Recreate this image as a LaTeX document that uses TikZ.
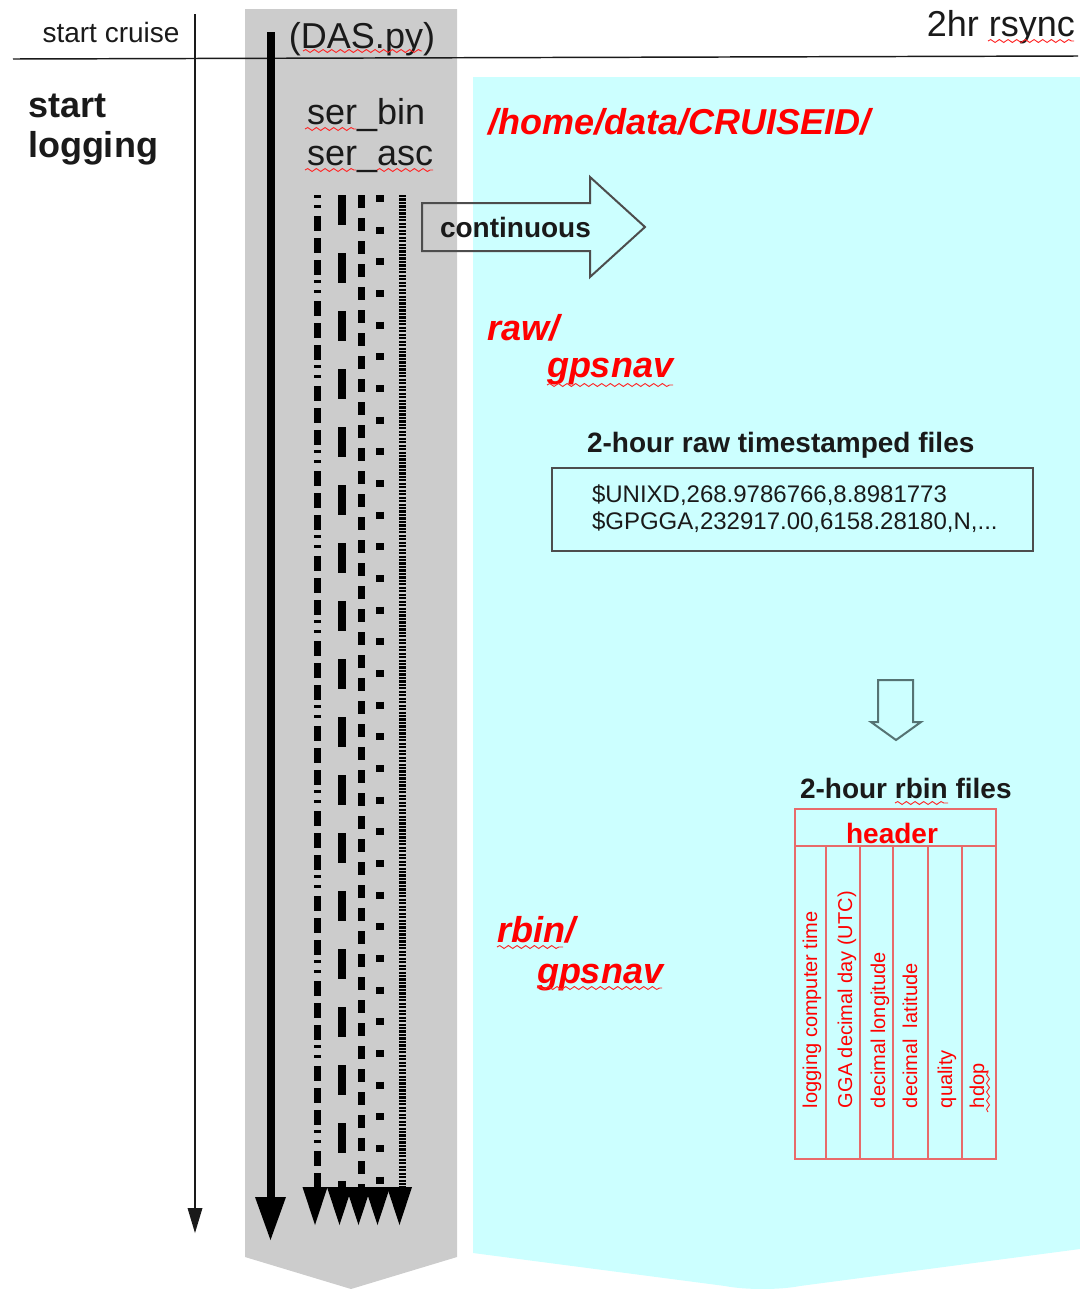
\documentclass[tikz,border=0pt]{standalone}
\usepackage{fontspec}
\setmainfont{Liberation Sans}
\usetikzlibrary{decorations.pathmorphing}
\definecolor{bandgray}{HTML}{CCCCCC}
\definecolor{cyanbg}{HTML}{CCFFFF}
\definecolor{tabred}{HTML}{E86A6A}
\definecolor{outl}{HTML}{4D4D4D}
\definecolor{outltwo}{HTML}{557373}
\definecolor{inkblack}{HTML}{1A1A1A}
\newcommand\fsA{\fontsize{27}{32}\selectfont}
\newcommand\fsB{\fontsize{21}{25}\selectfont}
\newcommand\fsC{\fontsize{18}{21}\selectfont}
\newcommand\fsD{\fontsize{15}{18}\selectfont}
\begin{document}
\begin{tikzpicture}[x=0.75pt,y=-0.75pt,
  txt/.style={inner sep=0pt, outer sep=0pt, text=inkblack},
  redtxt/.style={inner sep=0pt, outer sep=0pt, text=red},
  coltxt/.style={inner sep=0pt, outer sep=0pt, text=red, rotate=90, anchor=base west},
  wavy/.style={red!85!white, line width=0.7pt, decorate, decoration={snake, segment length=6.5pt, amplitude=1.1pt}},
  dashline/.style={line width=5.25pt},
  tabline/.style={tabred, line width=1.5pt}]
\useasboundingbox (0,0) rectangle (1080,1289);
% backgrounds
\fill[cyanbg] (473,77) -- (1080,77) -- (1080,1249) -- (800,1286) .. controls (780,1290) and (745,1290) .. (725,1286) -- (473,1253) -- cycle;
\fill[bandgray] (245,9) -- (457,9) -- (457,1257) -- (351,1289) -- (245,1257) -- cycle;
% horizontal rule
\coordinate (hl) at (13,59);
\coordinate (hr) at (1078,56);
\draw[inkblack, line width=1.1pt] (hl) -- (hr);
% thin timeline arrow
\coordinate (tA) at (195,14);
\coordinate (tB) at (195,1212);
\draw[inkblack, line width=1.1pt] (tA) -- (tB);
\fill[inkblack] (187.5,1208) -- (202.5,1208) -- (195,1233) -- cycle;
% thick arrow
\coordinate (kA) at (271,32);
\coordinate (kB) at (271,1199);
\draw[black, line width=6pt] (kA) -- (kB);
\fill[black] (255,1197) -- (286,1197) -- (270.5,1240) -- cycle;
% dashed streams
\coordinate (d1a) at (317,195); \coordinate (d1b) at (317,1189);
\coordinate (d2a) at (342,195); \coordinate (d2b) at (342,1189);
\coordinate (d3a) at (361,195); \coordinate (d3b) at (361,1189);
\coordinate (d4a) at (380,195); \coordinate (d4b) at (380,1189);
\coordinate (d5a) at (402,195); \coordinate (d5b) at (402,1189);
\draw[dashline, dash pattern=on 2.25pt off 5.25pt on 2.25pt off 6pt on 11.25pt off 5.25pt on 11.25pt off 5.25pt on 11.25pt off 3.75pt] (d1a) -- (d1b);
\draw[dashline, line width=6pt, dash pattern=on 22.5pt off 21pt] (d2a) -- (d2b);
\draw[dashline, dash pattern=on 9.75pt off 7.5pt] (d3a) -- (d3b);
\draw[dashline, line width=6pt, dash pattern=on 5.25pt off 18.5pt] (d4a) -- (d4b);
\draw[dashline, dash pattern=on 1.65pt off 0.95pt] (d5a) -- (d5b);
\foreach \tx in {315,339.5,358.5,377.5,399.5}{
  \fill[black] (\tx-12.5,1187) -- (\tx+12.5,1187) -- (\tx,1225) -- cycle;
}
% continuous arrow
\draw[outl, line width=1.5pt, line join=miter] (422,203) -- (590,203) -- (590,177) -- (645,227) -- (590,277) -- (590,251) -- (422,251) -- cycle;
\node[txt, anchor=base west] (cont) at (440,237) {\fsB\bfseries continuous};
% texts left / top
\node[txt, anchor=base] (sc) at (111,42) {\fsB start cruise};
\node[txt, anchor=base west] (sl1) at (28,117) {\fsA\bfseries start};
\node[txt, anchor=base west] (sl2) at (28,157) {\fsA\bfseries logging};
\node[txt, anchor=base] (das) at (362,48) {\fsA (DAS.py)};
\node[txt, anchor=base west] (sb) at (307,124) {\fsA ser\_bin};
\node[txt, anchor=base west] (sa) at (307,165) {\fsA ser\_asc};
\node[txt, anchor=base east] (rs) at (1075,36) {\fsA 2hr rsync};
% directories
\node[redtxt, anchor=base west] (home) at (488,134) {\fsA\bfseries\itshape /home/data/CRUISEID/};
\node[redtxt, anchor=base west] (raw) at (487,340) {\fsA\bfseries\itshape raw/};
\node[redtxt, anchor=base west] (gps1) at (547,377) {\fsA\bfseries\itshape gpsnav};
\node[redtxt, anchor=base west] (rbin) at (497,942) {\fsA\bfseries\itshape rbin/};
\node[redtxt, anchor=base west] (gps2) at (537,983) {\fsA\bfseries\itshape gpsnav};
% raw files
\node[txt, anchor=base west] (rawt) at (587,452) {\fsB\bfseries 2-hour raw timestamped files};
\draw[outl, line width=1.5pt] (552,468) rectangle (1033,551);
\node[txt, anchor=base west] (l1) at (592,502) {\fsC \$UNIXD,268.9786766,8.8981773};
\node[txt, anchor=base west] (l2) at (592,529) {\fsC \$GPGGA,232917.00,6158.28180,N,...};
% down arrow
\draw[outltwo, line width=1.5pt, line join=miter] (878,680) -- (913,680) -- (913,722) -- (921,722) -- (896,740) -- (871,722) -- (878,722) -- cycle;
% rbin files table
\node[txt, anchor=base west] (rbt) at (800,798) {\fsB\bfseries 2-hour rbin files};
\draw[tabline] (795,809) rectangle (996,1159);
\draw[tabline] (795,846) -- (996,846);
\foreach \cx in {826,860,893,928,962}{
  \draw[tabline] (\cx,846) -- (\cx,1159);
}
\node[redtxt, anchor=base] (hdr) at (892,843) {\fsB\bfseries header};
\node[coltxt] (c1) at (817,1108) {\fsD logging computer time};
\node[coltxt] (c2) at (852,1108) {\fsD GGA decimal day (UTC)};
\node[coltxt] (c3) at (885,1108) {\fsD decimal longitude};
\node[coltxt] (c4) at (917,1108) {\fsD decimal~ latitude};
\node[coltxt] (c5) at (952,1108) {\fsD quality};
\node[coltxt] (c6) at (984,1108) {\fsD hdop};
% spell-check squiggles
\draw[wavy] (303,51) -- (422,51);
\draw[wavy] (305,129) -- (356,129);
\draw[wavy] (305,170) -- (356,170);
\draw[wavy] (377,170) -- (433,170);
\draw[wavy] (988,41) -- (1074,41);
\draw[wavy] (547,385) -- (673,385);
\draw[wavy] (497,947) -- (563,947);
\draw[wavy] (537,988) -- (662,988);
\draw[wavy] (895,803) -- (948,803);
\draw[wavy] (988,1112) -- (988,1070);
\end{tikzpicture}
\end{document}
